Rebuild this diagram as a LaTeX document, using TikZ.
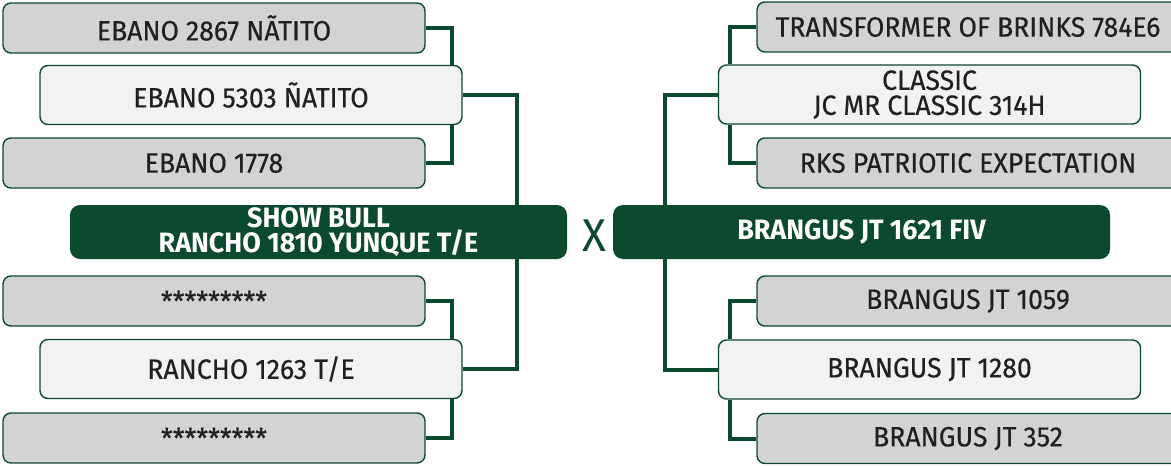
\documentclass[tikz,border=0pt]{standalone}
\usepackage{fontspec}
\setmainfont{Fira Sans}[FakeStretch=0.96]
\newfontfamily\boxfont{Fira Sans}[FakeStretch=0.95, FakeBold=0.4]
\usetikzlibrary{backgrounds}

\definecolor{pedgreen}{HTML}{0B4A2E}
\definecolor{pedgrey}{HTML}{D1D3D4}
\definecolor{pedlight}{HTML}{F1F2F4}
\definecolor{pedtext}{HTML}{231F20}

\tikzset{
  box/.style={rounded corners=4pt, draw=pedgreen, line width=0.7pt, inner sep=0pt,
    text=pedtext, align=center, font=\boxfont\fontsize{14}{12.5}\selectfont},
  greybox/.style={box, fill=pedgrey, minimum width=211pt, minimum height=25pt},
  sirebox/.style={box, fill=pedlight, minimum width=211pt, minimum height=29.5pt},
  mainbox/.style={box, draw=none, fill=pedgreen, text=white, rounded corners=5pt,
    minimum width=248.5pt, minimum height=27pt, font=\bfseries\fontsize{14}{12.5}\selectfont},
  link/.style={draw=pedgreen, line width=2pt},
}

\begin{document}
\begin{tikzpicture}[x=0.5pt, y=-0.5pt]
  \useasboundingbox (0,0) rectangle (1171,466);
  \clip (0,0) rectangle (1171,466);

  % left side
  \node[greybox] (ebano2867) at (214,28) {EBANO 2867 NÃTITO};
  \node[sirebox] (ebano5303) at (251,95) {EBANO 5303 ÑATITO};
  \node[greybox] (ebano1778) at (214,163) {EBANO 1778};
  \node[mainbox] (showbull) at (318.5,232) {SHOW BULL\\RANCHO 1810 YUNQUE T/E};
  \node[greybox] (starsa) at (214,301) {\raisebox{-1.5pt}{*********}};
  \node[sirebox] (rancho1263) at (251,369) {RANCHO 1263 T/E};
  \node[greybox] (starsb) at (214,438) {\raisebox{-1.5pt}{*********}};

  \node[text=pedgreen, font=\fontsize{23}{23}\selectfont] (cross) at (594,236) {X};

  % right side
  \node[greybox] (transformer) at (968,27) {TRANSFORMER OF BRINKS 784E6};
  \node[sirebox] (classic) at (929.5,94.5) {CLASSIC\\JC MR CLASSIC 314H};
  \node[greybox] (rks) at (968,163) {RKS PATRIOTIC EXPECTATION};
  \node[mainbox] (brangus1621) at (861.5,232) {BRANGUS JT 1621 FIV};
  \node[greybox] (brangus1059) at (968,301) {BRANGUS JT 1059};
  \node[sirebox] (brangus1280) at (929.5,369.5) {BRANGUS JT 1280};
  \node[greybox] (brangus352) at (968,438.5) {BRANGUS JT 352};

  \begin{scope}[on background layer]
    \draw[link] (ebano2867.east) -- ++(26,0) coordinate (lt) -- (lt |- ebano5303.north);
    \draw[link] (ebano1778.east) -- ++(26,0) coordinate (lb) -- (lb |- ebano5303.south);
    \draw[link] (ebano5303.east) -- ++(54,0) |- (rancho1263.east);
    \draw[link] (starsa.east) -- ++(26,0) coordinate (lc) -- (lc |- rancho1263.north);
    \draw[link] (starsb.east) -- ++(26,0) coordinate (ld) -- (ld |- rancho1263.south);

    \draw[link] (transformer.west) -- ++(-26,0) coordinate (rt) -- (rt |- classic.north);
    \draw[link] (rks.west) -- ++(-26,0) coordinate (rb) -- (rb |- classic.south);
    \draw[link] (classic.west) -- ++(-53,0) |- (brangus1280.west);
    \draw[link] (brangus1059.west) -- ++(-26,0) coordinate (rc) -- (rc |- brangus1280.north);
    \draw[link] (brangus352.west) -- ++(-26,0) coordinate (rd) -- (rd |- brangus1280.south);
  \end{scope}
\end{tikzpicture}
\end{document}
